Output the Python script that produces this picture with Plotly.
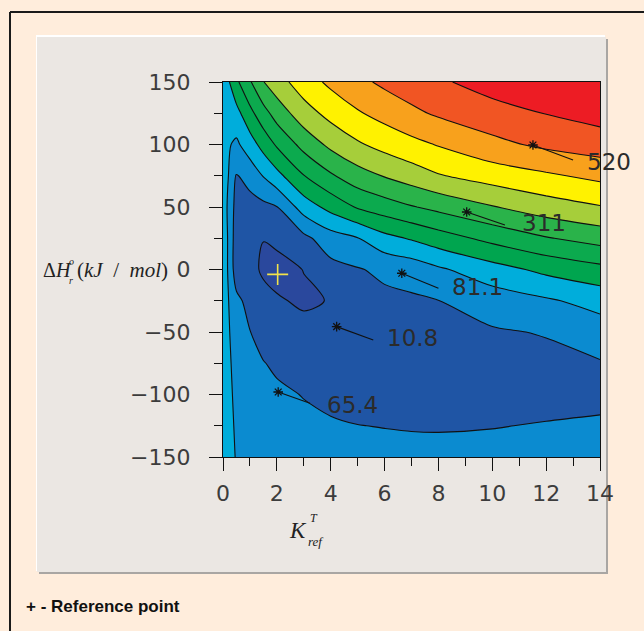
import plotly.graph_objects as go

# ---------------- data ----------------
k_ref = [0, 0.5, 1, 1.5, 2, 3, 4, 5, 6, 7, 8, 10, 12, 14]          # K_ref^T grid
dh_r = [-150, -125, -100, -75, -50, -25, 0, 25, 50, 75, 100, 125, 150]  # ΔH_r grid (kJ/mol)

# contour-level index of the objective surface, one list per K column (ΔH from -150 up to 150)
col_k00 = [3.45, 3.60, 3.58, 3.60, 3.55, 3.54, 3.81, 3.81, 3.60, 3.72, 3.27, 3.30, 3.26]
col_k05 = [2.95, 2.85, 2.75, 2.60, 2.45, 2.25, 1.43, 1.43, 1.60, 1.93, 2.82, 3.67, 4.80]
col_k10 = [2.70, 2.54, 2.37, 2.20, 2.02, 1.66, 1.30, 1.25, 1.60, 2.39, 3.54, 4.71, 5.89]
col_k15 = [2.55, 2.38, 2.21, 2.03, 1.69, 1.32, 0.85, 1.02, 1.75, 3.05, 4.37, 5.62, 6.97]
col_k20 = [2.45, 2.30, 2.14, 1.87, 1.60, 1.22, 0.30, 1.45, 1.97, 3.69, 5.13, 6.43, 7.57]
col_k30 = [2.38, 2.17, 1.97, 1.82, 1.66, 0.68, 1.05, 1.75, 3.46, 4.97, 6.34, 7.57, 8.53]
col_k40 = [2.30, 2.08, 1.82, 1.50, 1.25, 1.10, 1.68, 2.55, 4.33, 5.87, 7.24, 8.32, 9.21]
col_k50 = [2.25, 2.01, 1.75, 1.55, 1.40, 1.35, 1.93, 2.96, 5.10, 6.59, 7.87, 8.90, 9.75]
col_k60 = [2.22, 1.98, 1.75, 1.55, 1.50, 1.78, 2.20, 3.70, 5.53, 7.06, 8.34, 9.35, 10.20]
col_k70 = [2.18, 1.96, 1.72, 1.55, 1.55, 1.86, 2.40, 4.10, 5.93, 7.49, 8.72, 9.79, 10.54]
col_k80 = [2.15, 1.96, 1.72, 1.60, 1.80, 1.99, 2.85, 4.55, 6.27, 7.93, 9.06, 10.14, 10.85]
col_k100 = [2.18, 1.98, 1.72, 1.65, 1.90, 2.47, 3.60, 5.29, 6.94, 8.45, 9.73, 10.62, 11.42]
col_k120 = [2.25, 2.03, 1.82, 1.75, 2.06, 2.87, 4.25, 5.93, 7.53, 8.85, 10.21, 11.03, 11.90]
col_k140 = [2.30, 2.08, 1.85, 1.93, 2.53, 3.35, 4.71, 6.39, 7.94, 9.25, 10.52, 11.37, 12.20]

band_colors = ["#2a489d", "#1f55a5", "#0b8bd0", "#00addb", "#00a54f", "#0caa4e",
               "#2ab34a", "#a6ce3a", "#fff200", "#f8a11c", "#f15523", "#ed1c24"]

label_text = ["10.8", "65.4", "81.1", "311", "520"]
label_star_k = [4.22, 2.05, 6.64, 9.05, 11.51]
label_star_dh = [-45.7, -98.0, -3.0, 46.0, 99.6]
label_end_k = [5.58, 3.23, 8.00, 10.47, 13.00]
label_end_dh = [-56.4, -107.0, -15.0, 35.6, 87.6]
label_pos_k = [6.01, 3.79, 8.43, 11.03, 13.44]
label_pos_dh = [-55.0, -108.4, -13.7, 36.9, 86.0]

ref_k = [2.03]
ref_dh = [-3.9]

x_ticks = [0, 2, 4, 6, 8, 10, 12, 14]
y_ticks = [-150, -100, -50, 0, 50, 100, 150]

# ---------------- figure ----------------
cols = [col_k00, col_k05, col_k10, col_k15, col_k20, col_k30, col_k40, col_k50,
        col_k60, col_k70, col_k80, col_k100, col_k120, col_k140]
z = [list(row) for row in zip(*cols)]

n = len(band_colors)
cscale = []
for i, c in enumerate(band_colors):
    lo = max(0.0, (i - 0.5) / (n - 1))
    hi = min(1.0, (i + 0.5) / (n - 1))
    cscale.append([lo, c])
    cscale.append([hi, c])

W, H = 644, 631
L, R, T, B = 223, 44, 82, 174
PW, PH = W - L - R, H - T - B


def px(x):
    return (x - L) / PW


def py(y):
    return (H - B - y) / PH


fig = go.Figure()
fig.add_trace(go.Contour(
    x=k_ref, y=dh_r, z=z,
    autocontour=False,
    contours=dict(start=1, end=11, size=1, coloring="fill"),
    colorscale=cscale, showscale=False,
    line=dict(color="#111111", width=1.1, smoothing=0.85),
    hoverinfo="skip",
))

# leader lines of contour labels
lx, ly = [], []
for a, b, c, d in zip(label_star_k, label_star_dh, label_end_k, label_end_dh):
    lx += [a, c, None]
    ly += [b, d, None]
fig.add_trace(go.Scatter(x=lx, y=ly, mode="lines", line=dict(color="#111111", width=1.1),
                         hoverinfo="skip", showlegend=False))
fig.add_trace(go.Scatter(x=label_star_k, y=label_star_dh, mode="markers",
                         marker=dict(symbol="asterisk-open", size=8, color="#111111",
                                     line=dict(color="#111111", width=1.3)),
                         hoverinfo="skip", showlegend=False))
fig.add_trace(go.Scatter(x=ref_k, y=ref_dh, mode="markers",
                         marker=dict(symbol="cross-thin-open", size=15, color="#f2e24a",
                                     line=dict(color="#f2e24a", width=1.6)),
                         hoverinfo="skip", showlegend=False))

ann = []
for t, xk, yd in zip(label_text, label_pos_k, label_pos_dh):
    ann.append(dict(x=xk, y=yd, xref="x", yref="y", text=t, showarrow=False,
                    xanchor="left", yanchor="middle",
                    font=dict(family="DejaVu Sans", size=23, color="#2b2b2b")))

serif = "Liberation Serif, DejaVu Serif, serif"
nb = "&nbsp;"
# y axis title pieces
ann += [
    dict(x=px(41), y=py(270), xref="paper", yref="paper", text="Δ<i>H</i>", showarrow=False,
         xanchor="left", yanchor="middle", font=dict(family=serif, size=20, color="#222")),
    dict(x=px(67), y=py(261), xref="paper", yref="paper", text="<i>o</i>", showarrow=False,
         xanchor="left", yanchor="middle", font=dict(family=serif, size=10, color="#222")),
    dict(x=px(67), y=py(280), xref="paper", yref="paper", text="<i>r</i>", showarrow=False,
         xanchor="left", yanchor="middle", font=dict(family=serif, size=10, color="#222")),
    dict(x=px(75), y=py(270), xref="paper", yref="paper",
         text="(<i>kJ</i>" + nb * 2 + "/" + nb * 2 + "<i>mol</i>)", showarrow=False,
         xanchor="left", yanchor="middle", font=dict(family=serif, size=21, color="#222")),
    # x axis title pieces
    dict(x=px(287), y=py(530), xref="paper", yref="paper", text="<i>K</i>", showarrow=False,
         xanchor="left", yanchor="middle", font=dict(family=serif, size=23, color="#222")),
    dict(x=px(308), y=py(518), xref="paper", yref="paper", text="<i>T</i>", showarrow=False,
         xanchor="left", yanchor="middle", font=dict(family=serif, size=12, color="#222")),
    dict(x=px(306), y=py(541), xref="paper", yref="paper", text="<i>ref</i>", showarrow=False,
         xanchor="left", yanchor="middle", font=dict(family=serif, size=13, color="#222")),
    # footnote
    dict(x=px(24), y=py(606), xref="paper", yref="paper", text="<b>+ - Reference point</b>",
         showarrow=False, xanchor="left", yanchor="middle",
         font=dict(family="Liberation Sans, Arial, sans-serif", size=17, color="#111")),
]

shapes = [
    # panel shadow
    dict(type="rect", xref="paper", yref="paper", x0=px(39), x1=px(608), y0=py(574), y1=py(39),
         fillcolor="#a9a6a3", line=dict(width=0), layer="below"),
    # highlight
    dict(type="rect", xref="paper", yref="paper", x0=px(36), x1=px(605), y0=py(571), y1=py(35),
         fillcolor="#ffffff", line=dict(width=0), layer="below"),
    # grey panel
    dict(type="rect", xref="paper", yref="paper", x0=px(37), x1=px(606), y0=py(572), y1=py(37),
         fillcolor="#ebe7e3", line=dict(width=0), layer="below"),
    # page frame lines
    dict(type="line", xref="paper", yref="paper", x0=px(10), x1=px(644), y0=py(12), y1=py(12),
         line=dict(color="#1a1a1a", width=2), layer="below"),
    dict(type="line", xref="paper", yref="paper", x0=px(10), x1=px(10), y0=py(12), y1=py(631),
         line=dict(color="#1a1a1a", width=2), layer="below"),
]

tickfont = dict(family="DejaVu Sans", size=22, color="#3c3c3c")
fig.update_layout(
    width=W, height=H,
    margin=dict(l=L, r=R, t=T, b=B, pad=0),
    paper_bgcolor="#ffeddc", plot_bgcolor="#ebe7e3",
    showlegend=False,
    annotations=ann, shapes=shapes,
    xaxis=dict(range=[0, 14], tickvals=x_ticks, ticks="outside", ticklen=13, tickwidth=1.3,
               tickcolor="#111", showline=True, linecolor="#111", linewidth=1.3, mirror=True,
               showgrid=False, zeroline=False, tickfont=tickfont, ticklabelstandoff=3,
               minor=dict(dtick=1, ticks="outside", ticklen=8, tickwidth=1.3, tickcolor="#111",
                          showgrid=False)),
    yaxis=dict(range=[-150, 150], tickvals=y_ticks, ticks="outside", ticklen=13, tickwidth=1.3,
               tickcolor="#111", showline=True, linecolor="#111", linewidth=1.3, mirror=True,
               showgrid=False, zeroline=False, tickfont=tickfont, ticklabelstandoff=14,
               minor=dict(dtick=25, ticks="outside", ticklen=8, tickwidth=1.3, tickcolor="#111",
                          showgrid=False)),
)

fig.write_html("out.html", config={"displayModeBar": False},
               post_script="document.body.style.margin='0';document.body.style.padding='0';"
                           "document.body.style.background='#ffeddc';")
